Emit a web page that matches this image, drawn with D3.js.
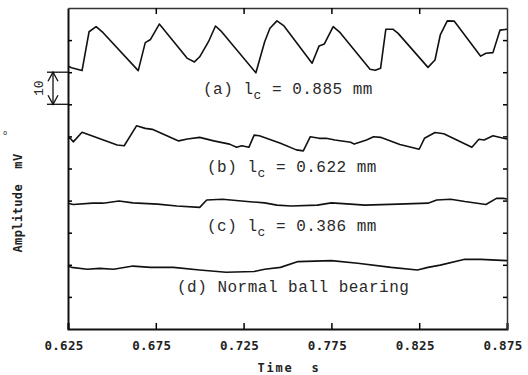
<!DOCTYPE html>
<html>
<head>
<meta charset="utf-8">
<script src="https://cdn.jsdelivr.net/npm/d3@7"></script>
<style>
  body { margin: 0; background: #fff; }
  svg { display: block; }
  .lbl { font-family: "Liberation Mono", "DejaVu Sans Mono", monospace; font-size: 16px; letter-spacing: 0.5px; fill: #2a2a2a; }
  .axlbl { font-family: "DejaVu Sans Mono", monospace; font-weight: bold; fill: #222; }
</style>
</head>
<body>
<div id="main"></div>
<script>
// tick values
const TIME_TICKS = [0.625, 0.675, 0.725, 0.775, 0.825, 0.875];
const AMP_TICKS = [10, 20, 30, 40, 50, 60, 70, 80, 90];

// [time s, amplitude mV]
const curveA = [[0.625, 81.9], [0.627, 81.4], [0.633, 80.5], [0.637, 92.6], [0.641, 94.2], [0.645, 92.3],
  [0.665, 80.5], [0.669, 89.2], [0.672, 90.2], [0.677, 95.0], [0.693, 84.3], [0.697, 83.2], [0.700, 84.8],
  [0.705, 89.5], [0.709, 94.4], [0.712, 92.9], [0.732, 79.8], [0.737, 89.5], [0.740, 93.7], [0.744, 96.0],
  [0.748, 94.4], [0.764, 82.8], [0.768, 88.2], [0.771, 88.8], [0.776, 94.2], [0.780, 92.3], [0.797, 80.9],
  [0.800, 80.6], [0.803, 81.2], [0.806, 93.4], [0.810, 93.4], [0.813, 92.1], [0.830, 81.5], [0.834, 83.8],
  [0.837, 91.6], [0.841, 96.0], [0.845, 95.9], [0.860, 85.0], [0.863, 85.9], [0.867, 86.1], [0.871, 93.1],
  [0.875, 93.4]];
const curveB = [[0.625, 59.2], [0.626, 59.6], [0.628, 58.3], [0.633, 61.3], [0.653, 57.3], [0.657, 57.1],
  [0.664, 63.3], [0.669, 62.5], [0.673, 62.2], [0.688, 58.6], [0.693, 59.2], [0.700, 59.7], [0.708, 58.6],
  [0.717, 57.6], [0.721, 56.6], [0.724, 57.1], [0.728, 56.6], [0.731, 60.4], [0.734, 60.2], [0.746, 57.9],
  [0.755, 55.8], [0.759, 55.5], [0.763, 59.9], [0.768, 59.4], [0.772, 59.4], [0.777, 58.9], [0.786, 58.2],
  [0.788, 57.6], [0.795, 58.9], [0.799, 59.9], [0.803, 59.7], [0.814, 57.5], [0.825, 56.0], [0.828, 59.4],
  [0.834, 61.2], [0.839, 60.8], [0.855, 56.6], [0.859, 59.1], [0.862, 58.9], [0.867, 60.2], [0.873, 59.4],
  [0.875, 59.2]];
const curveC = [[0.625, 39.2], [0.628, 38.8], [0.639, 39.2], [0.645, 39.2], [0.654, 39.9], [0.662, 39.3],
  [0.676, 38.9], [0.687, 38.3], [0.700, 37.9], [0.704, 40.2], [0.713, 40.4], [0.727, 39.7], [0.737, 39.3],
  [0.744, 38.6], [0.752, 38.3], [0.767, 38.6], [0.775, 39.3], [0.786, 38.9], [0.794, 38.6], [0.813, 38.9],
  [0.830, 39.2], [0.835, 40.2], [0.843, 40.4], [0.851, 39.7], [0.863, 38.8], [0.869, 40.7], [0.873, 40.7],
  [0.875, 40.5]];
const curveD = [[0.625, 19.6], [0.627, 19.2], [0.636, 18.6], [0.643, 18.9], [0.651, 18.6], [0.662, 19.6],
  [0.672, 19.2], [0.685, 19.2], [0.700, 18.4], [0.715, 17.7], [0.731, 17.9], [0.737, 18.6], [0.746, 19.2],
  [0.756, 21.0], [0.775, 21.3], [0.790, 20.5], [0.809, 19.2], [0.824, 18.4], [0.830, 19.2], [0.837, 19.9],
  [0.851, 21.7], [0.860, 21.7], [0.875, 21.3]];

const CURVES = [curveA, curveB, curveC, curveD];
// label text: [before subscript, subscript, after subscript]
const LABELS = [["(a) l", "c", " = 0.885 mm"], ["(b) l", "c", " = 0.622 mm"],
  ["(c) l", "c", " = 0.386 mm"], ["(d) Normal ball bearing", "", ""]];
const SCALE_BAR = [70, 80]; // 10 mV

const ctx = {
    w: 528,
    h: 375,
    left: 68,
    right: 507,
    top: 8,
    bottom: 329,
    labelPos: [[203, 94], [207, 172], [207, 231], [177, 292]],
};

function createViz() {
    let svg = d3.select("#main").append("svg")
        .attr("width", ctx.w)
        .attr("height", ctx.h);
    svg.append("rect").attr("width", ctx.w).attr("height", ctx.h).attr("fill", "#fff");

    let x = d3.scaleLinear().domain([0.625, 0.875]).range([ctx.left, ctx.right]);
    let y = d3.scaleLinear().domain([0, 100]).range([ctx.bottom, ctx.top]);

    // frame: left and bottom heavier, top and right lighter
    svg.append("g")
        .attr("transform", `translate(0,${ctx.bottom})`)
        .call(d3.axisBottom(x).tickValues(TIME_TICKS).tickSize(-6).tickFormat(""))
        .call(g => g.select(".domain").attr("stroke-width", 2).attr("stroke", "#111"))
        .call(g => g.selectAll(".tick line").attr("stroke-width", 1.5));
    svg.append("g")
        .attr("transform", `translate(0,${ctx.top})`)
        .call(d3.axisTop(x).tickValues(TIME_TICKS.slice(1, -1)).tickSize(-6).tickSizeOuter(0).tickFormat(""))
        .call(g => g.select(".domain").attr("stroke-width", 1.5).attr("stroke", "#333"))
        .call(g => g.selectAll(".tick line").attr("stroke-width", 1.5));
    svg.append("g")
        .attr("transform", `translate(${ctx.left},0)`)
        .call(d3.axisLeft(y).tickValues(AMP_TICKS).tickSize(-4).tickSizeOuter(0).tickFormat(""))
        .call(g => g.select(".domain").attr("stroke-width", 2).attr("stroke", "#111"))
        .call(g => g.selectAll(".tick line").attr("stroke-width", 1.5));
    svg.append("g")
        .attr("transform", `translate(${ctx.right},0)`)
        .call(d3.axisRight(y).tickValues(AMP_TICKS).tickSize(-4).tickSizeOuter(0).tickFormat(""))
        .call(g => g.select(".domain").attr("stroke-width", 1.5).attr("stroke", "#333"))
        .call(g => g.selectAll(".tick line").attr("stroke-width", 1.5));

    // x tick labels
    svg.append("g").selectAll("text")
        .data(TIME_TICKS)
        .enter()
        .append("text")
        .attr("class", "axlbl")
        .attr("x", d => x(d) - 4)
        .attr("y", 350)
        .attr("text-anchor", "middle")
        .style("font-size", "12.5px")
        .style("letter-spacing", "0.3px")
        .text(d => d3.format(".3f")(d));

    svg.append("text")
        .attr("class", "axlbl")
        .attr("x", 289)
        .attr("y", 372)
        .attr("text-anchor", "middle")
        .style("font-size", "12px")
        .style("letter-spacing", "1.8px")
        .attr("xml:space", "preserve")
        .text("Time  s");

    svg.append("text")
        .attr("class", "axlbl")
        .attr("transform", "translate(22,203) rotate(-90)")
        .attr("text-anchor", "middle")
        .style("font-size", "12px")
        .style("letter-spacing", "0.4px")
        .attr("xml:space", "preserve")
        .text("Amplitude  mV");
    svg.append("text")
        .attr("class", "axlbl")
        .attr("x", 5)
        .attr("y", 135)
        .attr("text-anchor", "middle")
        .style("font-size", "7px")
        .style("font-weight", "normal")
        .text("o");

    // curves
    let line = d3.line().x(d => x(d[0])).y(d => y(d[1]));
    svg.append("g").selectAll("path")
        .data(CURVES)
        .enter()
        .append("path")
        .attr("d", line)
        .attr("fill", "none")
        .attr("stroke", "#111")
        .attr("stroke-width", 1.6)
        .attr("stroke-linejoin", "round");

    // curve labels
    LABELS.forEach((l, i) => {
        let t = svg.append("text")
            .attr("class", "lbl")
            .attr("x", ctx.labelPos[i][0])
            .attr("y", ctx.labelPos[i][1])
            .attr("xml:space", "preserve");
        t.append("tspan").text(l[0]);
        if (l[1]) {
            t.append("tspan").attr("dy", 5).style("font-size", "13px").text(l[1]);
            t.append("tspan").attr("dy", -5).text(l[2]);
        }
    });

    // 10 mV scale bar
    let yb0 = y(SCALE_BAR[0]), yb1 = y(SCALE_BAR[1]), bx = 53;
    let bar = svg.append("g").attr("stroke", "#111").attr("stroke-width", 1.3).attr("fill", "none");
    [yb0, yb1].forEach(v => bar.append("line").attr("x1", 47).attr("x2", ctx.left).attr("y1", v).attr("y2", v));
    bar.append("line").attr("x1", bx).attr("x2", bx).attr("y1", yb1).attr("y2", yb0);
    bar.append("path").attr("d", `M${bx - 5},${yb1 + 9}L${bx},${yb1}L${bx + 5},${yb1 + 9}`);
    bar.append("path").attr("d", `M${bx - 5},${yb0 - 9}L${bx},${yb0}L${bx + 5},${yb0 - 9}`);
    svg.append("text")
        .attr("class", "lbl")
        .attr("transform", `translate(43,${(yb0 + yb1) / 2}) rotate(-90)`)
        .attr("text-anchor", "middle")
        .style("font-size", "13px")
        .style("letter-spacing", "0px")
        .text("10");
}

createViz();
</script>
</body>
</html>
